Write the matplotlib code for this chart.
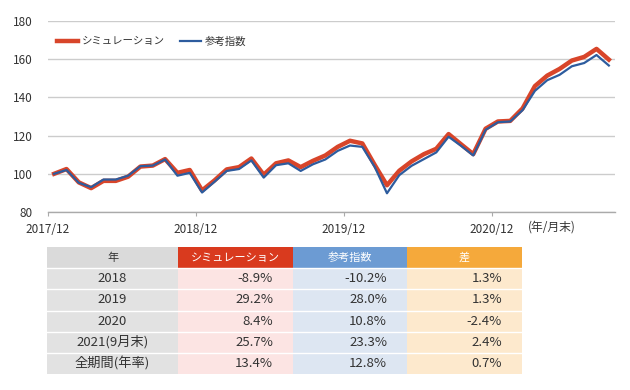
import matplotlib
matplotlib.use('Agg')
import matplotlib.pyplot as plt
from matplotlib.patches import Rectangle

plt.rcParams['font.family'] = ['Noto Sans CJK JP', 'DejaVu Sans']

# ---------- データ ----------
# 2017/12 〜 2021/9 の月末値 (46 点)
sim = [100, 102.5, 95.5, 92.5, 96.3, 96.3, 98.5, 103.8, 104.3, 107.7,
       100.5, 102.0, 91.3, 96.5, 102.3, 103.5, 108.0, 99.5, 105.5, 107.0,
       103.5, 106.8, 109.6, 114.1, 117.3, 115.9, 104.7, 94.0, 101.6, 106.5,
       110.3, 113.1, 120.8, 115.5, 110.3, 123.6, 127.4, 127.7, 134.2, 145.9,
       151.4, 154.9, 159.3, 161.2, 165.4, 159.8]
ref = [100, 102.0, 95.3, 93.0, 97.0, 97.0, 99.0, 104.0, 104.3, 107.5,
       99.0, 100.5, 90.2, 95.8, 101.5, 102.5, 107.0, 98.0, 104.5, 105.5,
       101.5, 105.0, 107.5, 112.0, 114.8, 114.1, 103.7, 89.8, 99.3, 104.2,
       107.7, 111.2, 119.4, 114.7, 109.6, 123.0, 127.0, 127.4, 133.3, 143.4,
       149.0, 151.8, 156.3, 158.0, 162.2, 156.7]
tick_labels = ['2017/12', '2018/12', '2019/12', '2020/12']
series_names = ['シミュレーション', '参考指数']

table_cols = ['年', 'シミュレーション', '参考指数', '差']
table_years = ['2018', '2019', '2020', '2021(9月末)', '全期間(年率)']
table_sim = ['-8.9%', '29.2%', '8.4%', '25.7%', '13.4%']
table_ref = ['-10.2%', '28.0%', '10.8%', '23.3%', '12.8%']
table_diff = ['1.3%', '1.3%', '-2.4%', '2.4%', '0.7%']

RED = '#D8452A'
BLUE = '#2D5C9E'
TXT = '#333333'

fig = plt.figure(figsize=(6.3, 3.9), dpi=100)

# ---------- 折れ線 ----------
ax = fig.add_axes([48 / 630, 1 - 212 / 390, 567 / 630, 191 / 390])
x = list(range(len(sim)))
ax.plot(x, sim, color=RED, linewidth=3.2, label=series_names[0], zorder=3)
ax.plot(x, ref, color=BLUE, linewidth=1.6, label=series_names[1], zorder=4)
ax.set_xlim(-0.5, len(sim) - 0.5)
ax.set_ylim(80, 180)
ax.set_yticks(range(80, 181, 20))
ax.set_xticks([-0.5, 11.5, 23.5, 35.5])
ax.set_xticklabels(tick_labels)
ax.grid(True, axis='y', color='#CCCCCC', linewidth=1.0)
ax.set_axisbelow(True)
for s in ['top', 'right', 'left']:
    ax.spines[s].set_visible(False)
ax.spines['bottom'].set_color('#AAAAAA')
ax.spines['bottom'].set_linewidth(1.0)
ax.tick_params(axis='y', length=0, pad=11, labelsize=8.5, labelcolor=TXT)
ax.tick_params(axis='x', length=3, color='#AAAAAA', pad=5, labelsize=8.5, labelcolor=TXT)
# 単位ラベル (年/月末)
ax.text(38.45, -0.045, '(年/月末)', transform=ax.get_xaxis_transform(),
        fontsize=8.5, color=TXT, va='top', ha='left')
leg = ax.legend(loc='upper left', bbox_to_anchor=(0.0, 0.97), ncol=2, frameon=False,
                fontsize=7.5, handlelength=2.0, columnspacing=1.4, handletextpad=0.4)
for t in leg.get_texts():
    t.set_color(TXT)

# ---------- 表 ----------
tx0, ty0, tw, th = 47, 247, 475, 127
tax = fig.add_axes([tx0 / 630, 1 - (ty0 + th) / 390, tw / 630, th / 390])
tax.set_xlim(0, tw)
tax.set_ylim(th, 0)
tax.axis('off')

col_edges = [0, 131, 246, 360, 475]
head_colors = ['#DADADA', '#D93A1E', '#6C9BD3', '#F5A93B']
body_colors = ['#E2E2E2', '#FCE4E3', '#DDE6F2', '#FDE9CD']
row_h = th / 6
columns = [table_years, table_sim, table_ref, table_diff]

for c in range(4):
    x0, x1 = col_edges[c], col_edges[c + 1]
    tax.add_patch(Rectangle((x0, 0), x1 - x0, row_h, facecolor=head_colors[c],
                            edgecolor='none'))
    tax.text((x0 + x1) / 2, row_h / 2, table_cols[c], ha='center', va='center',
             fontsize=8, color=TXT if c == 0 else 'white')
    for r in range(5):
        y0 = row_h * (r + 1)
        tax.add_patch(Rectangle((x0, y0), x1 - x0, row_h, facecolor=body_colors[c],
                                edgecolor='none'))
        val = columns[c][r]
        if c == 0:
            tax.text((x0 + x1) / 2, y0 + row_h / 2, val, ha='center', va='center',
                     fontsize=9.5, color=TXT)
        else:
            tax.text(x1 - 20, y0 + row_h / 2, val, ha='right', va='center',
                     fontsize=9.5, color=TXT)
# 行の区切り (白線)
for r in range(1, 6):
    tax.plot([0, tw], [row_h * r, row_h * r], color='white', linewidth=1.0)

fig.savefig('out.png', dpi=100)
